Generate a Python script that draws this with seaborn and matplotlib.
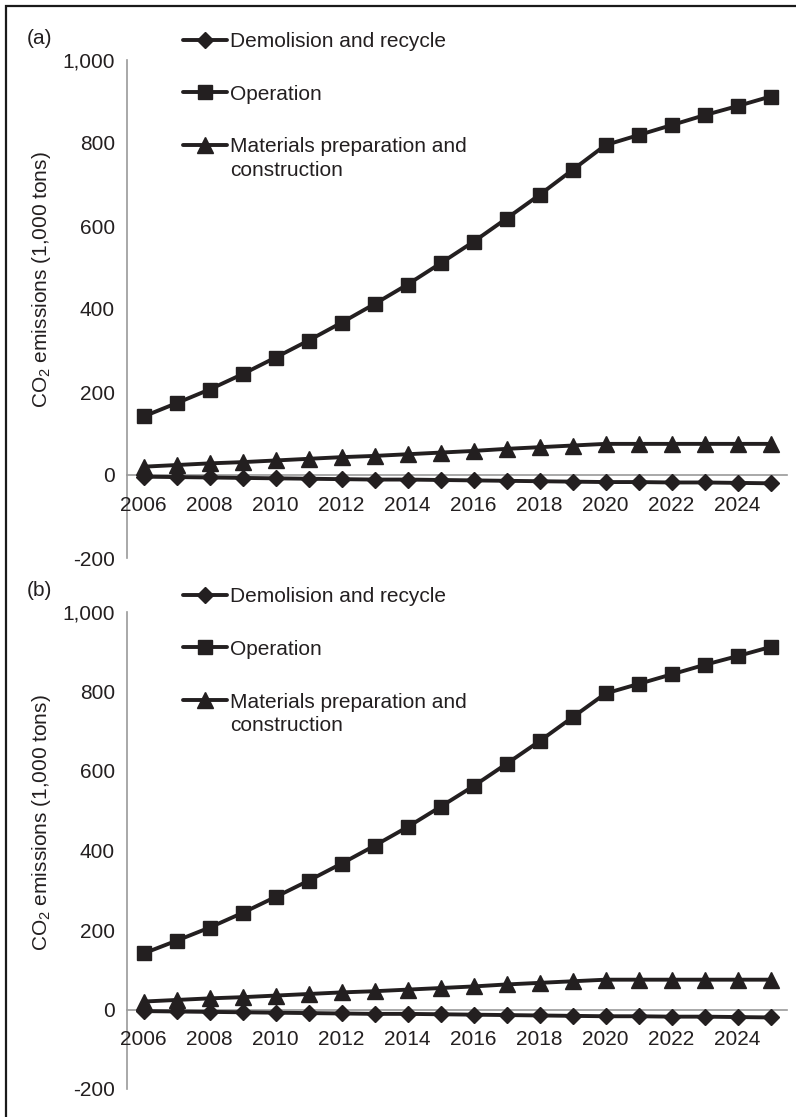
import numpy as np
import pandas as pd
import seaborn as sns
import matplotlib.pyplot as plt
from matplotlib.patches import Rectangle
from matplotlib.ticker import FixedLocator

# values (both panels show the same series)
years = list(range(2006, 2026))
demolition = [-4, -5, -6, -7, -8, -9, -10, -11, -11, -12,
              -13, -14, -15, -16, -17, -17, -18, -18, -19, -20]
operation = [141, 173, 206, 243, 283, 324, 367, 412, 459, 510,
             562, 618, 675, 735, 795, 819, 843, 867, 889, 912]
materials = [20, 24, 28, 31, 35, 39, 43, 46, 50, 54,
             58, 63, 67, 71, 75, 75, 75, 75, 75, 75]

series_names = ["Demolision and recycle", "Operation",
                "Materials preparation and\nconstruction"]
panel_labels = ["(a)", "(b)"]
y_ticks = [-200, 0, 200, 400, 600, 800, 1000]
y_tick_labels = ["-200", "0", "200", "400", "600", "800", "1,000"]
x_tick_years = list(range(2006, 2025, 2))
y_label = "CO$_2$ emissions (1,000 tons)"

df = pd.DataFrame({
    "year": years * 3,
    "value": demolition + operation + materials,
    "series": np.repeat(series_names, len(years)),
})

sns.set_style("white")
plt.rcParams["font.family"] = ["Liberation Sans", "DejaVu Sans"]
plt.rcParams["mathtext.default"] = "regular"

ink = "#231f20"
gray = "#9a9a9a"
W, H = 796, 1117

fig = plt.figure(figsize=(W / 100, H / 100), dpi=100)

# panel boxes in pixels: (top of 1,000 tick, bottom at -200), legend top
panels = [(60, 558, 32), (612, 1089, 587)]
styles = [("D", 8.3), ("s", 10.5), ("^", 11.5)]

for (top, bottom, leg_top), plab in zip(panels, panel_labels):
    ax = fig.add_axes([127 / W, 1 - bottom / H, 660 / W, (bottom - top) / H])
    for name, (mk, ms) in zip(series_names, styles):
        sns.lineplot(data=df[df["series"] == name], x="year", y="value",
                     marker=mk, markersize=ms, color=ink, linewidth=2.8,
                     markeredgecolor=ink, markeredgewidth=1, legend=False,
                     ax=ax, clip_on=False)

    ax.set_xlim(2005.5, 2025.5)
    ax.set_ylim(-200, 1000)
    ax.spines["top"].set_visible(False)
    ax.spines["right"].set_visible(False)
    ax.spines["bottom"].set_position(("data", 0))
    for s in ["left", "bottom"]:
        ax.spines[s].set_color(gray)
        ax.spines[s].set_linewidth(1.2)
        ax.spines[s].set_zorder(0.5)

    ax.set_yticks(y_ticks, y_tick_labels)
    ax.set_xticks(x_tick_years, [str(y) for y in x_tick_years])
    ax.xaxis.set_minor_locator(FixedLocator(np.arange(2005.5, 2026, 1)))
    ax.tick_params(axis="x", which="major", length=0, pad=15,
                   labelsize=15, labelcolor=ink)
    ax.tick_params(axis="x", which="minor", direction="in", length=4,
                   width=1, color=gray)
    ax.tick_params(axis="y", direction="out", length=4.3, width=1,
                   color=gray, pad=4.3, labelsize=15, labelcolor=ink)

    ax.set_xlabel("")
    ax.set_ylabel(y_label, fontsize=15, color=ink)
    ax.yaxis.set_label_coords(-0.112, 0.558)

    leg = ax.legend(ax.lines[:3], series_names, loc="upper left",
                    bbox_to_anchor=(183 / W, 1 - leg_top / H),
                    bbox_transform=fig.transFigure, frameon=False,
                    fontsize=15, handlelength=2.1, handletextpad=0.15,
                    labelspacing=1.62, borderpad=0, borderaxespad=0)
    for t in leg.get_texts():
        t.set_color(ink)
        t.set_linespacing(1.3)
    # put the marker of the two-line entry beside its first line
    for col in leg._legend_handle_box.get_children():
        col.get_children()[-1].align = "top"

    fig.text(27 / W, 1 - (top - 22) / H, plab, fontsize=15, color=ink,
             ha="left", va="center")

fig.patches.append(Rectangle((6 / W, -0.05), 1.0, 1 - 6 / H + 0.05,
                             transform=fig.transFigure, fill=False,
                             linewidth=1.6, edgecolor="#1a1a1a"))

fig.savefig("out.png", dpi=100)
